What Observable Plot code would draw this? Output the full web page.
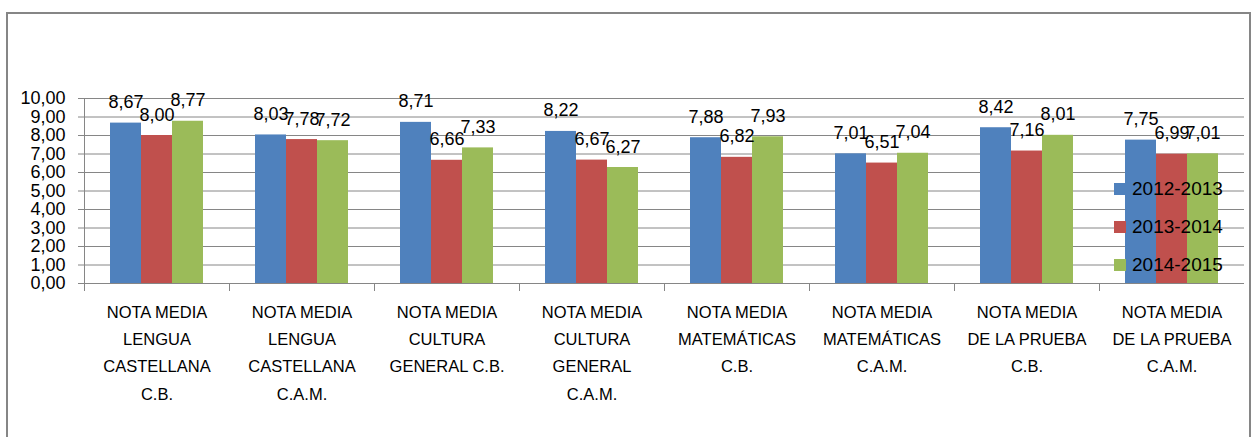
<!DOCTYPE html>
<html><head><meta charset="utf-8">
<script src="https://cdn.jsdelivr.net/npm/d3@7"></script>
<script src="https://cdn.jsdelivr.net/npm/@observablehq/plot@0.6"></script>
<style>
html,body{margin:0;padding:0;background:#fff;}
#wrap{position:relative;width:1254px;height:437px;overflow:hidden;}
#wrap svg{position:absolute;left:0;top:0;}
#border{position:absolute;left:6px;top:12px;width:1241px;height:440px;border:2px solid #868686;border-bottom:none;pointer-events:none;}
#legend{position:absolute;left:1114px;top:170px;font-family:'Liberation Sans',Arial,sans-serif;font-size:19px;color:#000;}
#legend .item{display:flex;align-items:center;height:38px;}
#legend .sw{width:12px;height:12px;margin-right:6px;}
</style>
</head><body>
<div id="wrap"><div id="border"></div></div>
<script>
const categories = [
  "NOTA MEDIA\nLENGUA\nCASTELLANA\nC.B.",
  "NOTA MEDIA\nLENGUA\nCASTELLANA\nC.A.M.",
  "NOTA MEDIA\nCULTURA\nGENERAL C.B.",
  "NOTA MEDIA\nCULTURA\nGENERAL\nC.A.M.",
  "NOTA MEDIA\nMATEMÁTICAS\nC.B.",
  "NOTA MEDIA\nMATEMÁTICAS\nC.A.M.",
  "NOTA MEDIA\nDE LA PRUEBA\nC.B.",
  "NOTA MEDIA\nDE LA PRUEBA\nC.A.M."
];
const series = ["2012-2013", "2013-2014", "2014-2015"];
const values2012 = [8.67, 8.03, 8.71, 8.22, 7.88, 7.01, 8.42, 7.75];
const values2013 = [8.00, 7.78, 6.66, 6.67, 6.82, 6.51, 7.16, 6.99];
const values2014 = [8.77, 7.72, 7.33, 6.27, 7.93, 7.04, 8.01, 7.01];
const yTicks = [0, 1, 2, 3, 4, 5, 6, 7, 8, 9, 10];
const colors = ["#4F81BD", "#C0504D", "#9BBB59"];

const seriesValues = [values2012, values2013, values2014];
const rows = categories.flatMap((c, i) => series.map((s, j) => ({category: c, series: s, value: seriesValues[j][i]})));
const fmt = d => d.toFixed(2).replace(".", ",");

const W = 1254, H = 437, mL = 81, mR = 8, mT = 98, mB = 154;
const plotH = H - mT - mB;
const grey = "#868686";

const chart = Plot.plot({
  width: W, height: H, marginLeft: mL, marginRight: mR, marginTop: mT, marginBottom: mB,
  style: {fontFamily: "'Liberation Sans', Arial, sans-serif", fontSize: "18px", color: "#000", background: "transparent", overflow: "visible"},
  fx: {domain: categories, paddingInner: 0, paddingOuter: 0, axis: null, label: null},
  x: {domain: series, paddingInner: 0, paddingOuter: 0.775, axis: null, label: null},
  y: {domain: [0, 10], axis: null, label: null},
  color: {domain: series, range: colors},
  marks: [
    Plot.ruleY(yTicks, {stroke: grey}),
    Plot.frame({anchor: "left", facetAnchor: "left", stroke: grey}),
    Plot.frame({anchor: "left", insetTop: plotH, insetBottom: -7, stroke: grey}),
    Plot.axisY(yTicks, {tickSize: 6, tickPadding: 13, tickFormat: fmt, stroke: grey, fill: "#000", fontSize: 18, label: null}),
    Plot.barY(rows, {fx: "category", x: "series", y: "value", fill: "series"}),
    Plot.text(rows, {fx: "category", x: "series", y: "value", text: d => fmt(d.value), lineAnchor: "bottom", dy: -15, fontSize: 18, fill: "#000"}),
    Plot.axisFx({anchor: "bottom", tickSize: 0, tickPadding: 15, lineHeight: 1.65, fontSize: 16.5, fill: "#000", label: null})
  ]
});
document.getElementById("wrap").prepend(chart);

const legend = document.createElement("div");
legend.id = "legend";
series.forEach((s, i) => {
  const item = document.createElement("div");
  item.className = "item";
  const sw = document.createElement("div");
  sw.className = "sw";
  sw.style.background = colors[i];
  const t = document.createElement("span");
  t.textContent = s;
  item.append(sw, t);
  legend.append(item);
});
document.getElementById("wrap").append(legend);
</script>
</body></html>
